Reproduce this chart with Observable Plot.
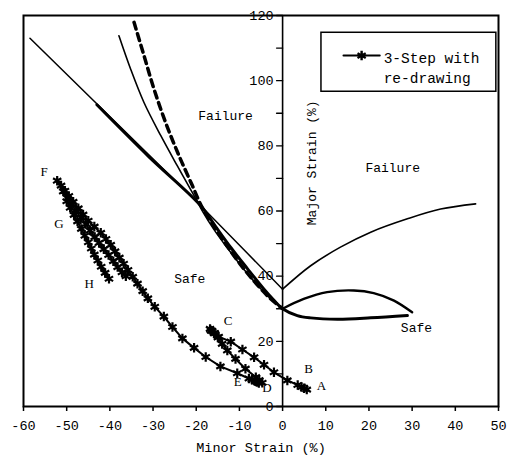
<!DOCTYPE html>
<html><head><meta charset="utf-8">
<script src="https://cdn.jsdelivr.net/npm/d3@7"></script>
<script src="https://cdn.jsdelivr.net/npm/@observablehq/plot@0.6"></script>
<style>body{margin:0;background:#fff;} #chart svg{font-family:"Liberation Mono",monospace;}</style>
</head><body><div id="chart"></div>
<script>
// Axis ticks
const xTicks = [-60,-50,-40,-30,-20,-10,0,10,20,30,40,50];
const yTicks = [0,10,20,30,40,50,60,70,80,90,100,110,120];
const yTickLabels = [0,20,40,60,80,100,120];

// Forming limit curves [minor, major]
const flcThinLeft = [[-37.9,113.8],[-35.2,103.6],[-32.1,93.3],[-28.2,83.1],[-24.4,73.9],[-20.5,64.7],[-18.5,59.8],[-16,54.5],[-13,49],[-9.5,43],[-6,37.5],[-3,33.3],[0,30]];
const flcHump = [[0,30],[4.9,33],[10.3,35.1],[16.5,35.6],[21.1,34.8],[25.8,32.5],[30,28.9]];
const flcDashed = [[-34.4,117.9],[-32.1,107.7],[-29.8,97.5],[-27.1,87.2],[-24,77],[-20.9,67.8],[-18.8,61.5],[-16.5,56.5],[-13.5,50.5],[-10,44],[-6.5,38.3],[-3.2,33.6],[0,30]];
const flcThick = [[-43,92.6],[-31,76.7],[-19,61.7],[-15.5,55.2],[-12,48.8],[-8.2,42.4],[-4.3,36],[-2,32.6],[0,30],[3.4,27.9],[6.5,27.2],[12.7,26.8],[20.4,27.2],[28.9,27.9]];
const flcStraight = [[-58.5,113],[-19,61.7],[0,36]];
const flcRight = [[0,36],[6.5,43.2],[13.4,48.9],[20.4,53.5],[28.9,57.6],[36.6,60.6],[44.7,62.2]];

// Strain paths, 3-Step with re-drawing
const pathF = [[-52.2,69.3],[-51.3,67.8],[-50.4,66.2],[-49.5,64.6],[-48.5,62.8],[-47.3,60.8],[-46.2,58.9],[-45,57],[-43.6,55.2],[-42.1,53.3],[-40.9,51.4],[-39.8,49.6],[-38.8,47.6],[-37.8,45.7],[-36.8,43.8],[-35.8,41.9],[-34.7,39.8],[-33.6,37.7],[-32.4,35.4],[-31.2,33.2],[-29.6,30.6],[-27.5,27.6],[-25.5,24.4],[-23.2,20.9],[-20.5,18],[-17.8,15.2],[-14.4,12.3],[-10.5,10.2],[-7.8,8.6],[-7.1,8.2],[-6.4,7.8],[-5.9,7.5],[-5.5,7.2]];
const pathG = [[-50.8,66],[-49.8,64],[-48.8,62],[-47.8,60],[-46.7,58],[-45.6,56],[-44.6,54],[-43.5,52],[-42.5,50.2],[-41.4,48.3],[-40.3,46.5],[-39.2,44.6],[-38.2,42.8],[-37.2,41.2],[-36.3,40]];
const pathH = [[-50,63],[-49.2,61],[-48.3,58.8],[-47.5,56.8],[-46.6,54.5],[-45.8,52.4],[-45,50.4],[-44.3,48.5],[-43.6,46.6],[-42.8,44.8],[-42,42.9],[-41.1,41],[-40.2,39.2]];
const pathCA = [[-16.8,23.8],[-16.3,23.2],[-15.7,22.5],[-14.8,21.4],[-12,19.9],[-9.3,17.5],[-6.6,15.1],[-4.3,12.8],[-2,10.5],[1.1,8],[3.5,6.6],[4.4,6],[5,5.6],[5.6,5.2]];
const pathCD = [[-16.6,23.3],[-15.9,22.5],[-15,21.2],[-14,19.2],[-12.8,17.2],[-10.9,14.6],[-8.6,11.6],[-6.2,9],[-5.4,8.1],[-4.7,7.3]];

// Point labels and region labels [text, minor, major]
const pointLabels = [["F",-55.2,72],["G",-51.8,56],["H",-44.8,37.6],["C",-12.6,26.4],["B",6,11.7],["A",9,6.4],["D",-3.6,5.8],["E",-10.4,7.6]];
const regionLabels = [["Failure",-13.2,89.2],["Failure",25.5,73.3],["Safe",-21.5,39.3],["Safe",31,24.2]];

// Legend
const legendText = ["3-Step with","re-drawing"];
const legendBox = {x1:9, x2:49.5, y1:96.6, y2:114.7};
const legendSample = [[14.1,107.7],[22.5,107.7]];

const paths = [pathF, pathG, pathH, pathCA, pathCD];
const pathRows = paths.flatMap((p,i) => p.map(([x,y]) => ({x,y,s:i})));
const tickShape = {draw(ctx, l){ ctx.moveTo(0,0); ctx.lineTo(0,-l); }};

const chart = Plot.plot({
  width: 512, height: 460,
  marginLeft: 23, marginRight: 14, marginTop: 15, marginBottom: 54,
  x: {domain: [-60, 50]},
  y: {domain: [0, 120], axis: null},
  style: {background: "white", color: "black", fontSize: "13px", fontFamily: "Liberation Mono, monospace"},
  marks: [
    Plot.axisX(xTicks, {tickSize: 5, tickPadding: 9, tickFormat: d => String(d), fontSize: 13.5, label: null, strokeWidth: 1.5}),
    Plot.ruleX([0], {stroke: "black", strokeWidth: 1.6}),
    Plot.vector(yTicks, {x: 0, y: d => d, length: 6, rotate: -90, anchor: "start", shape: tickShape, stroke: "black", strokeWidth: 1.4}),
    Plot.text(yTickLabels, {x: 0, y: d => d, text: d => String(d), dx: -9, textAnchor: "end", fontSize: 13.5}),
    // FLCs
    Plot.line(flcStraight, {stroke: "black", strokeWidth: 1.5}),
    Plot.line(flcRight, {stroke: "black", strokeWidth: 1.6, curve: "catmull-rom"}),
    Plot.line(flcThinLeft, {stroke: "black", strokeWidth: 1.6, curve: "catmull-rom"}),
    Plot.line(flcHump, {stroke: "black", strokeWidth: 2.4, curve: "catmull-rom"}),
    Plot.line(flcDashed, {stroke: "black", strokeWidth: 3.5, strokeDasharray: "7,5", curve: "catmull-rom"}),
    Plot.line(flcThick, {stroke: "black", strokeWidth: 3, curve: "catmull-rom"}),
    // strain paths
    Plot.line(pathRows, {x: "x", y: "y", z: "s", stroke: "black", strokeWidth: 2}),
    Plot.dot(pathRows, {x: "x", y: "y", symbol: "asterisk", r: 4.5, stroke: "black", strokeWidth: 2.2}),
    // labels
    Plot.text(pointLabels, {x: d => d[1], y: d => d[2], text: d => d[0], fontSize: 13, fontFamily: "Liberation Serif, serif"}),
    Plot.text(regionLabels, {x: d => d[1], y: d => d[2], text: d => d[0], fontSize: 13}),
    Plot.text(["Minor Strain (%)"], {frameAnchor: "bottom", dy: 45, fontSize: 13.5}),
    Plot.text(["Major Strain (%)"], {x: 6.7, y: 74.8, rotate: -90, fontSize: 13}),
    // legend
    Plot.rect([legendBox], {x1: "x1", x2: "x2", y1: "y1", y2: "y2", fill: "white", stroke: "black", strokeWidth: 1.5}),
    Plot.line(legendSample, {stroke: "black", strokeWidth: 2}),
    Plot.dot([legendSample.reduce((a,b)=>[(a[0]+b[0])/2,(a[1]+b[1])/2])], {symbol: "asterisk", r: 4.5, stroke: "black", strokeWidth: 2.4}),
    Plot.text(legendText, {x: 23.4, y: (d,i) => [106.9, 100.8][i], text: d => d, textAnchor: "start", fontSize: 14.5}),
    Plot.frame({stroke: "black", strokeWidth: 2})
  ]
});
document.getElementById("chart").append(chart);
</script>
</body></html>
